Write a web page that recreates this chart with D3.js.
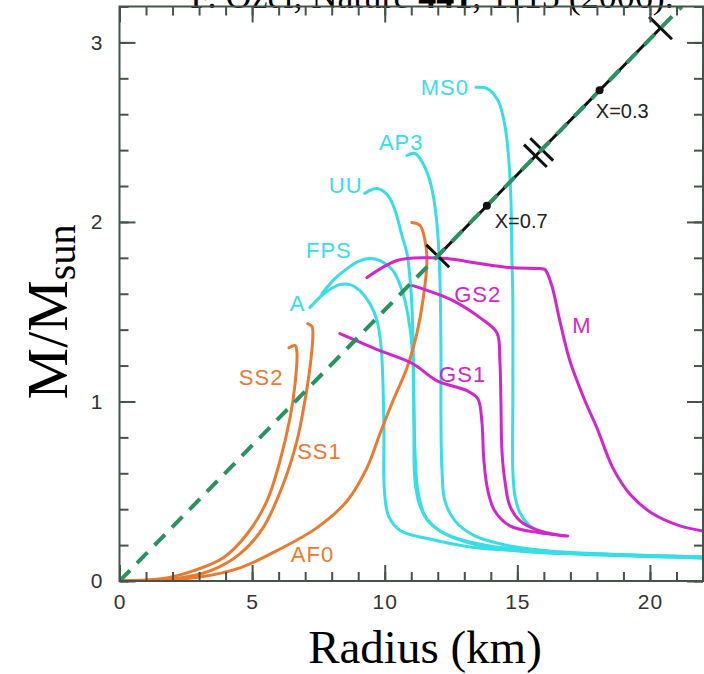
<!DOCTYPE html>
<html><head><meta charset="utf-8">
<script src="https://cdn.jsdelivr.net/npm/d3@7"></script>
<style>body{margin:0;background:#fff}svg{display:block}</style>
</head><body>
<svg id="chart" width="704" height="674"></svg>
<script>
// ---- axis ticks ----
const xTicks = [0, 5, 10, 15, 20];
const yTicks = [0, 1, 2, 3];
const xMinor = [0,1,2,3,4,5,6,7,8,9,10,11,12,13,14,15,16,17,18,19,20,21,22];
const yMinor = [0,0.2,0.4,0.6,0.8,1,1.2,1.4,1.6,1.8,2,2.2,2.4,2.6,2.8,3,3.2];

// ---- mass-radius curves [radius km, M/Msun] ----
const MS0 = [[13.44,2.75],[13.85,2.744],[14.27,2.677],[14.53,2.538],[14.68,2.342],[14.76,2.119],[14.79,1.84],[14.83,1.562],[14.83,1.004],[14.83,0.613],[14.91,0.474],[15.1,0.379],[15.47,0.307],[16.0,0.262]];
const AP3 = [[10.84,2.37],[11.14,2.381],[11.44,2.326],[11.7,2.231],[11.86,2.119],[12.0,1.935],[12.08,1.69],[12.12,1.283],[12.12,0.892],[12.16,0.613],[12.27,0.446],[12.65,0.335],[13.4,0.251],[14.72,0.195],[16.6,0.162],[19.24,0.145],[22,0.134]];
const UU  = [[9.25,2.159],[9.71,2.186],[10.12,2.147],[10.39,2.064],[10.65,1.924],[10.84,1.824],[10.99,1.617],[11.06,1.394],[11.1,1.004],[11.14,0.725],[11.25,0.502],[11.52,0.363],[12.08,0.279],[13.21,0.212],[15.09,0.167],[18.11,0.145],[22,0.128]];
const FPS = [[7.63,1.601],[8.12,1.684],[8.58,1.74],[8.99,1.779],[9.44,1.796],[9.82,1.785],[10.31,1.729],[10.69,1.601],[10.95,1.411],[11.06,1.227],[11.1,0.892],[11.14,0.558],[11.33,0.418],[11.7,0.323],[12.46,0.251],[13.96,0.195],[16.6,0.162],[22,0.134]];
const A   = [[7.18,1.523],[7.75,1.606],[8.31,1.651],[8.69,1.651],[9.06,1.617],[9.44,1.545],[9.71,1.45],[9.86,1.311],[9.93,1.115],[9.97,0.837],[9.99,0.5],[10.15,0.36],[10.6,0.28],[11.7,0.234],[13.21,0.19],[15.85,0.162],[18.86,0.145],[22,0.128]];
const AF0 = [[0,0],[1.52,0.006],[3.03,0.022],[4.54,0.073],[6.05,0.178],[7.44,0.296],[8.58,0.446],[9.33,0.63],[9.82,0.82],[10.31,1.004],[10.84,1.188],[11.21,1.378],[11.44,1.562],[11.59,1.785],[11.52,1.896],[11.33,1.98],[11.02,1.997]];
const SS1 = [[0,0],[2.0,0.011],[3.41,0.056],[4.54,0.151],[5.41,0.296],[6.12,0.519],[6.69,0.781],[6.99,1.004],[7.18,1.188],[7.29,1.366],[7.26,1.417],[7.1,1.433]];
const SS2 = [[0,0],[1.79,0.017],[2.77,0.056],[3.9,0.128],[4.81,0.262],[5.56,0.446],[6.05,0.669],[6.43,0.909],[6.62,1.099],[6.69,1.272],[6.62,1.311],[6.39,1.299]];
const M   = [[9.33,1.69],[10.46,1.785],[11.59,1.801],[12.34,1.796],[13.59,1.768],[14.72,1.746],[15.85,1.74],[16.04,1.735],[16.3,1.645],[16.6,1.45],[16.98,1.227],[17.55,1.004],[18.0,0.853],[18.6,0.63],[19.24,0.485],[20.11,0.374],[21.13,0.307],[22,0.279]];
const GS2 = [[11.06,1.645],[12.57,1.562],[13.59,1.467],[14.23,1.383],[14.34,1.227],[14.38,1.004],[14.42,0.725],[14.53,0.558],[14.72,0.418],[15.1,0.335],[15.85,0.279],[16.79,0.251]];
const GS1 = [[8.31,1.378],[9.82,1.283],[11.06,1.21],[11.97,1.115],[13.1,1.06],[13.51,1.015],[13.66,0.892],[13.74,0.669],[13.89,0.502],[14.15,0.39],[14.72,0.307],[15.85,0.268],[16.9,0.251]];

// ---- label anchors [radius, mass] ----
const labelNames = ["MS0","AP3","UU","FPS","A","SS2","SS1","AF0","GS2","GS1","M"];
const labelAt = [[11.36,2.705],[9.78,2.398],[7.89,2.159],[7.03,1.797],[6.42,1.503],[4.50,1.091],[6.70,0.679],[6.46,0.106],[12.62,1.553],[12.05,1.107],[17.07,1.38]];

// ---- observational constraint (Ozel 2006) ----
const constraintLine = [[0,0],[21.2,3.2]];
const constraintSegment = [[12.0,1.81],[20.4,3.08]];
const singleBars = [[12.0,1.81],[20.4,3.08]];
const doubleBar = [[15.8,2.386]];
const xDots = [[13.85,2.09],[18.1,2.733]];
const xLabels = ["X=0.7","X=0.3"];
const xLabelAt = [[14.15,1.964],[17.96,2.577]];

const CYAN="#38dde6", ORANGE="#ea7a30", MAG="#d226cc", GREEN="#2b9160", AXIS="#46524a";
const series = [
  {d:MS0,c:CYAN},{d:AP3,c:CYAN},{d:UU,c:CYAN},{d:FPS,c:CYAN},{d:A,c:CYAN},
  {d:AF0,c:ORANGE},{d:SS1,c:ORANGE},{d:SS2,c:ORANGE},
  {d:M,c:MAG},{d:GS2,c:MAG},{d:GS1,c:MAG}
];
const labelColors = [CYAN,CYAN,CYAN,CYAN,CYAN,ORANGE,ORANGE,ORANGE,MAG,MAG,MAG];

const svg = d3.select("#chart");
const x = d3.scaleLinear().domain([0,22]).range([119.5,703]);
const y = d3.scaleLinear().domain([0,3.2]).range([581,6.5]);

svg.append("defs").append("clipPath").attr("id","clip")
  .append("rect").attr("x",x(0)).attr("y",y(3.2)).attr("width",x(22)-x(0)).attr("height",y(0)-y(3.2));

// title (partly cut off at the top edge, as in the reference)
const title = svg.append("text").attr("x",432).attr("y",8).attr("text-anchor","middle")
  .attr("font-family","Liberation Serif, Times New Roman, serif").attr("font-size",36).attr("fill","#000");
title.append("tspan").text("F. Özel, Nature ");
title.append("tspan").attr("font-weight","bold").text("441");
title.append("tspan").text(", 1115 (2006).");

const plot = svg.append("g").attr("clip-path","url(#clip)");
const line = d3.line().x(d=>x(d[0])).y(d=>y(d[1])).curve(d3.curveCatmullRom.alpha(0.5));

series.forEach(s=>{
  plot.append("path").attr("d",line(s.d)).attr("fill","none").attr("stroke",s.c)
    .attr("stroke-width",3).attr("stroke-linejoin","round").attr("stroke-linecap","round");
});

// constraint: black segment, bars, dots, green dashed line
const lin = d3.line().x(d=>x(d[0])).y(d=>y(d[1]));
plot.append("path").attr("d",lin(constraintSegment)).attr("stroke","#111").attr("stroke-width",3).attr("fill","none");
const ddx = x(constraintLine[1][0])-x(constraintLine[0][0]);
const ddy = y(constraintLine[1][1])-y(constraintLine[0][1]);
const len = Math.hypot(ddx,ddy), ux=ddx/len, uy=ddy/len, px=-uy, py=ux;
function bar(cx,cy,h){
  plot.append("line").attr("x1",cx-px*h).attr("y1",cy-py*h).attr("x2",cx+px*h).attr("y2",cy+py*h)
    .attr("stroke","#111").attr("stroke-width",3);
}
singleBars.forEach(d=>bar(x(d[0]),y(d[1]),16));
doubleBar.forEach(d=>{ bar(x(d[0])-ux*4.5,y(d[1])-uy*4.5,16); bar(x(d[0])+ux*4.5,y(d[1])+uy*4.5,16); });
plot.append("path").attr("d",lin(constraintLine)).attr("stroke",GREEN).attr("stroke-width",4)
  .attr("stroke-dasharray","15,10").attr("fill","none");
xDots.forEach(d=>plot.append("circle").attr("cx",x(d[0])).attr("cy",y(d[1])).attr("r",4).attr("fill","#111"));

// axes
const tickFont = "Liberation Sans, Arial, Helvetica, sans-serif";
function styleAxis(g){ g.select(".domain").remove(); g.selectAll(".tick line").attr("stroke",AXIS).attr("stroke-width",2);
  g.selectAll("text").attr("font-family",tickFont).attr("font-size",21).attr("fill","#333").attr("letter-spacing","1px"); }
svg.append("g").attr("transform",`translate(0,${y(0)})`).call(d3.axisBottom(x).tickValues(xMinor).tickSize(-9).tickFormat("")).call(styleAxis);
svg.append("g").attr("transform",`translate(0,${y(0)})`).call(d3.axisBottom(x).tickValues(xTicks).tickSize(-16).tickPadding(13).tickFormat(d3.format("d"))).call(styleAxis);
svg.append("g").attr("transform",`translate(0,${y(3.2)})`).call(d3.axisTop(x).tickValues(xMinor).tickSize(-9).tickFormat("")).call(styleAxis);
svg.append("g").attr("transform",`translate(0,${y(3.2)})`).call(d3.axisTop(x).tickValues(xTicks).tickSize(-16).tickFormat("")).call(styleAxis);
svg.append("g").attr("transform",`translate(${x(0)},0)`).call(d3.axisLeft(y).tickValues(yMinor).tickSize(-9).tickFormat("")).call(styleAxis);
svg.append("g").attr("transform",`translate(${x(0)},0)`).call(d3.axisLeft(y).tickValues(yTicks).tickSize(-16).tickPadding(16).tickFormat(d3.format("d"))).call(styleAxis);
svg.append("g").attr("transform",`translate(${x(22)},0)`).call(d3.axisRight(y).tickValues(yMinor).tickSize(-9).tickFormat("")).call(styleAxis);
svg.append("g").attr("transform",`translate(${x(22)},0)`).call(d3.axisRight(y).tickValues(yTicks).tickSize(-16).tickFormat("")).call(styleAxis);
svg.append("rect").attr("x",x(0)).attr("y",y(3.2)).attr("width",x(22)-x(0)).attr("height",y(0)-y(3.2))
  .attr("fill","none").attr("stroke",AXIS).attr("stroke-width",2);

// curve labels
labelNames.forEach((n,i)=>{
  svg.append("text").attr("x",x(labelAt[i][0])).attr("y",y(labelAt[i][1])).text(n)
    .attr("font-family",tickFont).attr("font-size",22).attr("letter-spacing","1px").attr("fill",labelColors[i]);
});
xLabels.forEach((n,i)=>{
  svg.append("text").attr("x",x(xLabelAt[i][0])).attr("y",y(xLabelAt[i][1])).text(n)
    .attr("font-family",tickFont).attr("font-size",20).attr("fill","#222");
});

// axis titles
svg.append("text").attr("x",425).attr("y",663).attr("text-anchor","middle")
  .attr("font-family","Liberation Serif, Times New Roman, serif").attr("font-size",47).attr("fill","#000").text("Radius (km)");
const yt = svg.append("text").attr("transform","translate(67,312) rotate(-90)").attr("text-anchor","middle")
  .attr("font-family","Liberation Serif, Times New Roman, serif").attr("font-size",58).attr("fill","#000");
yt.append("tspan").text("M/M");
yt.append("tspan").attr("font-size",40).attr("dy",8).text("sun");
</script>
</body></html>
